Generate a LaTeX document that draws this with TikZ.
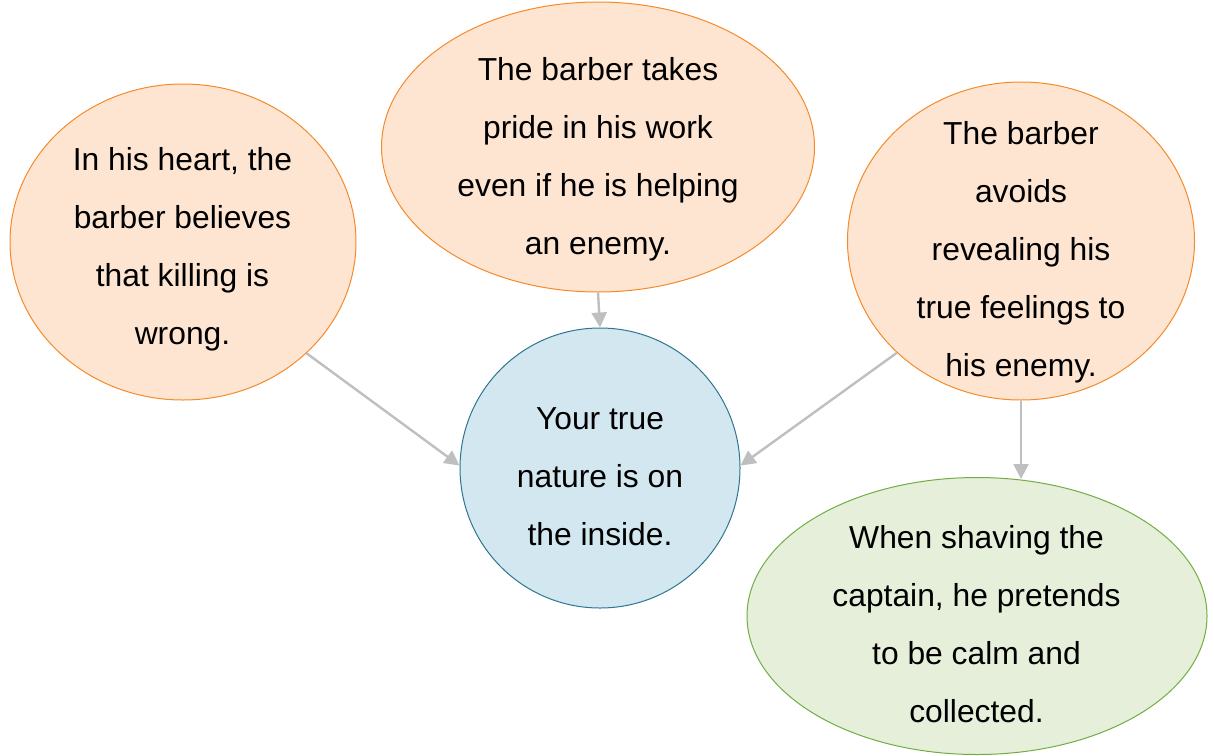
\documentclass[tikz,border=0pt]{standalone}
\usepackage{fontspec}
\setmainfont{Liberation Sans}
\usetikzlibrary{arrows.meta,shapes.geometric}
\definecolor{ofill}{HTML}{FDE5D2}
\definecolor{oline}{HTML}{F58A2A}
\definecolor{bfill}{HTML}{D2E7EF}
\definecolor{bline}{HTML}{2E7690}
\definecolor{gfill}{HTML}{E6EFDA}
\definecolor{gline}{HTML}{72AD43}
\definecolor{arr}{HTML}{BFBFBF}
\tikzset{
  bubble/.style={ellipse, inner sep=0pt, line width=1pt},
  obub/.style={bubble, draw=oline, fill=ofill},
  bbub/.style={bubble, draw=bline, fill=bfill},
  gbub/.style={bubble, draw=gline, fill=gfill},
  txt/.style={align=center, inner sep=0pt, font=\fontsize{31.8}{58}\selectfont},
  conn/.style={draw=arr, line width=2.4pt, -{Triangle[length=15pt,width=15pt]}}
}
\begin{document}
\begin{tikzpicture}[x=1pt,y=-1pt]
\useasboundingbox (0,0) rectangle (1214,755);
\node[obub, minimum width=346pt, minimum height=316pt] (e1) at (183,242) {};
\node[obub, minimum width=433pt, minimum height=290pt] (e2) at (598,147) {};
\node[obub, minimum width=347pt, minimum height=318pt] (e3) at (1021,241) {};
\node[bbub, minimum width=280pt, minimum height=280pt] (c) at (600,468) {};
\node[gbub, minimum width=460pt, minimum height=277pt] (g) at (977,616) {};
\node[txt] (t1) at (182.5,249.5) {In his heart, the\\barber believes\\that killing is\\wrong.};
\node[txt] (t2) at (598,159) {The barber takes\\pride in his work\\even if he is helping\\an enemy.};
\node[txt] (t3) at (1021,252) {The barber\\avoids\\revealing his\\true feelings to\\his enemy.};
\node[txt] (tc) at (600,476.5) {Your true\\nature is on\\the inside.};
\node[txt] (tg) at (976.5,624.5) {When shaving the\\captain, he pretends\\to be calm and\\collected.};
\draw[conn] (e1.-42) -- (c.179);
\draw[conn] (e2.south) -- (c.north);
\draw[conn] (e3.-138) -- (c.1);
\draw[conn] (e3.south) -- ([yshift=-2pt]g.north -| e3.south);
\end{tikzpicture}
\end{document}
